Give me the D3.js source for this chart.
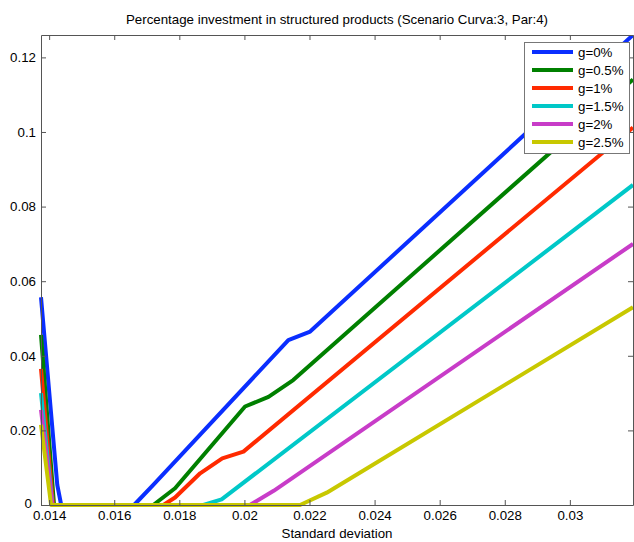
<!DOCTYPE html>
<html>
<head>
<meta charset="utf-8">
<script src="https://cdn.jsdelivr.net/npm/d3@7"></script>
<style>
  html, body { margin: 0; padding: 0; background: #fff; }
  svg { display: block; font-family: "Liberation Sans", Arial, sans-serif; }
</style>
</head>
<body>
<svg id="chart" width="634" height="542"></svg>
<script>
// Growth scenarios shown in the legend
const seriesNames = ["g=0%", "g=0.5%", "g=1%", "g=1.5%", "g=2%", "g=2.5%"];
const seriesColors = ["#0a2eff", "#008000", "#ff2a00", "#00c8c8", "#c83cc8", "#c8c800"];

// Standard deviation (x) and share invested in structured products (y) per scenario
const g0x  = [0.01375, 0.01425, 0.01437, 0.01661, 0.01720, 0.02135, 0.02202, 0.03194];
const g0y  = [0.0557,  0.0054,  0,       0,       0.0054,  0.0442,  0.0465,  0.1260];
const g05x = [0.01375, 0.01415, 0.01720, 0.01787, 0.02002, 0.02074, 0.02150, 0.03194];
const g05y = [0.0456,  0,       0,       0.0045,  0.0264,  0.0290,  0.0335,  0.1141];
const g1x  = [0.01375, 0.01412, 0.01751, 0.01787, 0.01864, 0.01932, 0.01997, 0.03194];
const g1y  = [0.0365,  0,       0,       0.0020,  0.0085,  0.0125,  0.0143,  0.1012];
const g15x = [0.01375, 0.01410, 0.01874, 0.01930, 0.03194];
const g15y = [0.0300,  0,       0,       0.0015,  0.0858];
const g2x  = [0.01375, 0.01410, 0.02017, 0.02090, 0.03194];
const g2y  = [0.0255,  0,       0,       0.0038,  0.0700];
const g25x = [0.01375, 0.01406, 0.02171, 0.02253, 0.03194];
const g25y = [0.0215,  0,       0,       0.0033,  0.0530];

const xs = [g0x, g05x, g1x, g15x, g2x, g25x];
const ys = [g0y, g05y, g1y, g15y, g2y, g25y];

// Axis ticks
const xTicks = [0.014, 0.016, 0.018, 0.02, 0.022, 0.024, 0.026, 0.028, 0.03];
const xTickLabels = ["0.014", "0.016", "0.018", "0.02", "0.022", "0.024", "0.026", "0.028", "0.03"];
const yTicks = [0, 0.02, 0.04, 0.06, 0.08, 0.1, 0.12];
const yTickLabels = ["0", "0.02", "0.04", "0.06", "0.08", "0.1", "0.12"];

const titleText = "Percentage investment in structured products (Scenario Curva:3, Par:4)";
const xLabelText = "Standard deviation";

const fontSize = "13.3px";
const svg = d3.select("#chart");
const plot = { left: 41, right: 633, top: 35, bottom: 505 };

const x = d3.scaleLinear().domain([0.01375, 0.03194]).range([plot.left, plot.right]);
const y = d3.scaleLinear().domain([0, 0.126]).range([plot.bottom, plot.top]);

// Lines keep their full stroke width at the axis edges
const pad = 2;
svg.append("defs").append("clipPath").attr("id", "plotClip")
  .append("rect")
  .attr("x", plot.left - pad).attr("y", plot.top)
  .attr("width", plot.right - plot.left + 2 * pad).attr("height", plot.bottom - plot.top + pad);

// Data lines
const line = d3.line().x(d => x(d[0])).y(d => y(d[1]));
const lines = svg.append("g").attr("clip-path", "url(#plotClip)");
xs.forEach((xa, i) => {
  const pts = xa.map((v, j) => [v, ys[i][j]]);
  lines.append("path")
    .attr("d", line(pts))
    .attr("fill", "none")
    .attr("stroke", seriesColors[i])
    .attr("stroke-width", 4)
    .attr("stroke-linejoin", "round");
});

// Axes: box with inward ticks on all four sides
const axisColor = "#555";
const tickLen = 5;
const bottomAxis = d3.axisBottom(x).tickValues(xTicks).tickSizeInner(-tickLen).tickSizeOuter(0)
  .tickPadding(5.5).tickFormat((d, i) => xTickLabels[i]);
const topAxis = d3.axisTop(x).tickValues(xTicks).tickSizeInner(-tickLen).tickSizeOuter(0).tickFormat("");
const leftAxis = d3.axisLeft(y).tickValues(yTicks).tickSizeInner(-tickLen).tickSizeOuter(0)
  .tickPadding(5).tickFormat((d, i) => yTickLabels[i]);
const rightAxis = d3.axisRight(y).tickValues(yTicks).tickSizeInner(-tickLen).tickSizeOuter(0).tickFormat("");

function styleAxis(g) {
  g.select(".domain").attr("stroke", axisColor);
  g.selectAll(".tick line").attr("stroke", axisColor);
  g.selectAll(".tick text").attr("fill", "#000").style("font-size", fontSize)
    .style("font-family", "'Liberation Sans', Arial, sans-serif");
}

svg.append("g").attr("transform", `translate(0,${plot.bottom})`).call(bottomAxis).call(styleAxis);
svg.append("g").attr("transform", `translate(0,${plot.top})`).call(topAxis).call(styleAxis);
const leftG = svg.append("g").attr("transform", `translate(${plot.left},0)`).call(leftAxis).call(styleAxis);
// The zero label sits a little further left so it clears the first x label
leftG.selectAll(".tick").filter(d => d === 0).select("text").attr("x", -9).attr("dy", "0.2em");
svg.append("g").attr("transform", `translate(${plot.right},0)`).call(rightAxis).call(styleAxis);

// Title and axis label
svg.append("text")
  .attr("x", (plot.left + plot.right) / 2).attr("y", 24)
  .attr("text-anchor", "middle").style("font-size", fontSize)
  .text(titleText);
svg.append("text")
  .attr("x", (plot.left + plot.right) / 2).attr("y", 538)
  .attr("text-anchor", "middle").style("font-size", fontSize)
  .text(xLabelText);

// Legend
const leg = { x: 524.5, y: 42.5, w: 105, h: 111, rowH: 18, first: 52 };
const legend = svg.append("g");
legend.append("rect")
  .attr("x", leg.x).attr("y", leg.y).attr("width", leg.w).attr("height", leg.h)
  .attr("fill", "#fff").attr("stroke", "#777").attr("stroke-width", 1);
seriesNames.forEach((name, i) => {
  const cy = leg.first + i * leg.rowH;
  legend.append("line")
    .attr("x1", 532).attr("x2", 573).attr("y1", cy).attr("y2", cy)
    .attr("stroke", seriesColors[i]).attr("stroke-width", 4);
  legend.append("text")
    .attr("x", 578).attr("y", cy + 5)
    .style("font-size", fontSize)
    .text(name);
});
</script>
</body>
</html>
